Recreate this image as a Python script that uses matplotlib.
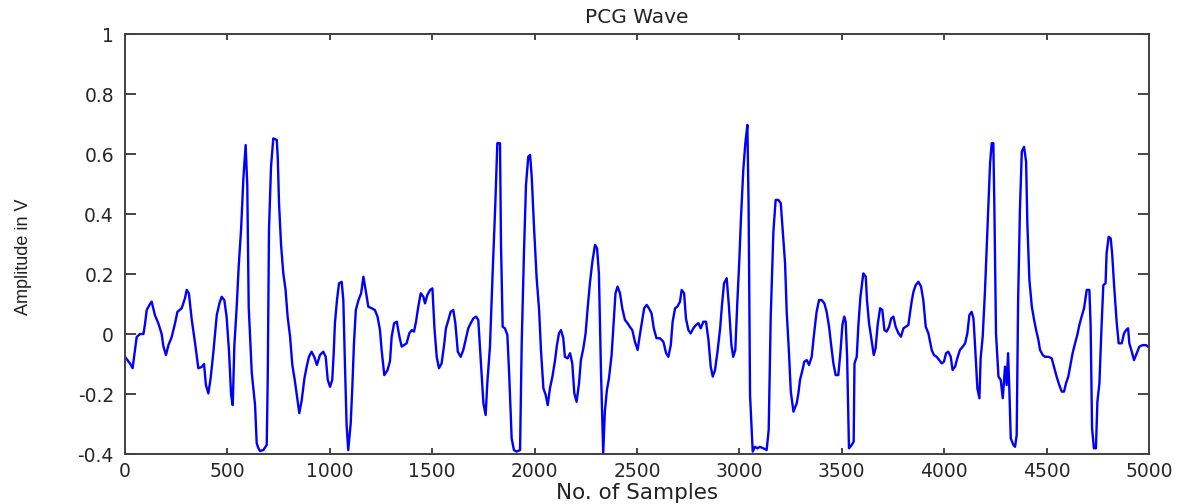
import matplotlib
matplotlib.use("Agg")
import matplotlib.pyplot as plt
from matplotlib import font_manager

samples = [0, 24, 37, 49, 57, 73, 90, 98, 106, 122, 130, 146, 163, 179, 187, 200, 212, 228, 244, 256,
           277, 293, 301, 312, 326, 342, 358, 374, 386, 395, 407, 418, 431, 448, 461, 472, 485, 496, 508, 518,
           526, 534, 545, 555, 567, 578, 589, 597, 604, 619, 635, 643,
           651, 659, 675, 692, 697, 703, 713, 724, 741, 746, 752, 762, 773, 784, 794, 806, 817, 830, 842, 851,
           863, 876, 887, 898, 911, 924, 937, 952, 968, 980, 990, 1001, 1012, 1019, 1025, 1035, 1045, 1058,
           1066, 1074, 1082, 1090, 1102, 1110, 1118, 1127, 1140, 1153, 1164, 1175, 1188, 1204, 1220, 1233,
           1245, 1253, 1266, 1282,
           1294, 1302, 1314, 1327, 1340, 1351, 1362, 1375, 1388, 1400, 1411, 1421, 1432, 1444, 1457, 1465,
           1476, 1490, 1501, 1511, 1522, 1533, 1546, 1558, 1567, 1579, 1590, 1603, 1613, 1625, 1639, 1652,
           1665, 1676, 1688, 1701, 1714, 1725, 1737, 1750, 1761, 1769, 1782, 1795, 1808, 1818, 1831, 1836,
           1844, 1855, 1867, 1876, 1888, 1899, 1912, 1929, 1937, 1948, 1958, 1969,
           1978, 1986, 1997, 2010, 2022, 2031, 2043, 2054, 2064, 2075, 2087, 2100, 2109, 2119, 2129, 2140,
           2148, 2161, 2173, 2184, 2194, 2205, 2217, 2226, 2238, 2249, 2259, 2270, 2282, 2295, 2305, 2314,
           2324, 2335, 2343, 2353, 2363, 2376, 2386, 2395, 2405, 2417, 2428, 2441, 2454, 2465, 2477, 2490,
           2503, 2514, 2526, 2535, 2547, 2558, 2571, 2582, 2595,
           2612, 2629, 2642, 2653, 2665, 2674, 2686, 2697, 2710, 2718, 2730, 2739, 2751, 2762, 2775, 2788,
           2800, 2811, 2824, 2837, 2849, 2860, 2870, 2881, 2893, 2906, 2915, 2925, 2938, 2949, 2961, 2970,
           2980, 2990, 2999, 3008, 3019, 3029, 3039, 3045, 3052, 3065, 3076, 3088, 3100, 3117, 3133, 3143,
           3153, 3166, 3177, 3190, 3202, 3211, 3223, 3231, 3241, 3251, 3264,
           3280, 3288, 3296, 3308, 3317, 3329, 3340, 3353, 3364, 3377, 3389, 3402, 3415, 3426, 3438, 3447,
           3459, 3470, 3483, 3493, 3503, 3512, 3519, 3526, 3535, 3548, 3558, 3562, 3573, 3581, 3591, 3605,
           3617, 3623, 3633, 3643, 3656, 3665, 3675, 3687, 3698, 3708, 3719, 3731, 3741, 3752, 3763, 3777,
           3789, 3801, 3812, 3825, 3833, 3841, 3850, 3861, 3874, 3887, 3898, 3910, 3923,
           3939, 3950, 3963, 3976, 3988, 3999, 4009, 4020, 4032, 4041, 4053, 4064, 4077, 4091, 4102, 4113,
           4123, 4134, 4143, 4151, 4162, 4172, 4178, 4188, 4199, 4211, 4224, 4232, 4240, 4245, 4253, 4265,
           4276, 4286, 4297, 4305, 4312, 4318, 4325, 4338, 4346, 4354, 4361, 4370, 4379, 4390, 4400, 4406,
           4416, 4428, 4439, 4449, 4460, 4468, 4481, 4492, 4509,
           4525, 4536, 4549, 4562, 4574, 4585, 4595, 4606, 4618, 4627, 4639, 4650, 4660, 4671, 4683, 4696,
           4709, 4715, 4722, 4731, 4741, 4748, 4758, 4767, 4777, 4788, 4793, 4803, 4813, 4820, 4829, 4842,
           4852, 4867, 4878, 4888, 4898, 4904, 4916, 4927, 4940, 4953, 4969, 4985, 4995]

amplitude = [-0.076, -0.098, -0.114, -0.05, -0.01, 0.0, 0.0, 0.035, 0.08, 0.10, 0.108, 0.063, 0.035, 0.0,
             -0.04, -0.07, -0.037, -0.01, 0.035, 0.074, 0.086, 0.12, 0.147, 0.135, 0.047, -0.03, -0.114,
             -0.11, -0.10, -0.17, -0.198, -0.148, -0.064, 0.063, 0.102, 0.124, 0.113, 0.058, -0.059, -0.203,
             -0.237, -0.037, 0.086, 0.224, 0.352, 0.519, 0.63, 0.497, 0.09, -0.13, -0.237, -0.364,
             -0.38, -0.39, -0.387, -0.37, -0.142, 0.347, 0.558, 0.652, 0.647, 0.586, 0.436, 0.297, 0.202,
             0.147, 0.058, -0.009, -0.103, -0.159, -0.22, -0.264, -0.22, -0.148, -0.109, -0.076, -0.059,
             -0.076, -0.103, -0.07, -0.059, -0.076, -0.153, -0.176, -0.153, -0.064, 0.036, 0.113, 0.169,
             0.174, 0.113, -0.103, -0.303, -0.387, -0.298, -0.176, -0.031, 0.08, 0.113, 0.136, 0.191, 0.147,
             0.091, 0.086, 0.08, 0.058, 0.013, -0.053, -0.137, -0.12,
             -0.09, -0.009, 0.036, 0.041, -0.009, -0.042, -0.037, -0.031, 0.002, 0.013, 0.008, 0.041, 0.091,
             0.136, 0.124, 0.102, 0.13, 0.147, 0.152, 0.019, -0.076, -0.114, -0.098, -0.037, 0.019, 0.047,
             0.074, 0.08, 0.036, -0.059, -0.076, -0.053, -0.014, 0.019, 0.036, 0.052, 0.058, 0.047, -0.087,
             -0.231, -0.27, -0.164, -0.042, 0.202, 0.43, 0.636, 0.636, 0.297, 0.024, 0.019, -0.003, -0.137,
             -0.348, -0.387, -0.392, -0.387, -0.031, 0.269, 0.497, 0.591,
             0.597, 0.524, 0.358, 0.186, 0.08, -0.053, -0.181, -0.203, -0.237, -0.181, -0.142, -0.087,
             -0.037, 0.002, 0.013, -0.014, -0.076, -0.081, -0.064, -0.098, -0.198, -0.226, -0.164, -0.087,
             -0.048, 0.002, 0.086, 0.169, 0.241, 0.297, 0.286, 0.202, -0.12, -0.398, -0.259, -0.187, -0.148,
             -0.07, 0.041, 0.136, 0.158, 0.136, 0.086, 0.047, 0.036, 0.024, 0.013, -0.026, -0.053, -0.003,
             0.047, 0.086, 0.097, 0.086, 0.069, 0.019, -0.014,
             -0.014, -0.026, -0.064, -0.076, -0.037, 0.041, 0.086, 0.091, 0.108, 0.147, 0.136, 0.052, 0.013,
             0.002, 0.019, 0.03, 0.036, 0.019, 0.041, 0.041, -0.02, -0.109, -0.142, -0.12, -0.059, 0.019,
             0.097, 0.169, 0.186, 0.091, -0.037, -0.076, -0.053, 0.108, 0.236, 0.391, 0.547, 0.636, 0.697,
             0.424, -0.203, -0.392, -0.376, -0.381, -0.376, -0.381, -0.387, -0.32, 0.058, 0.341, 0.447,
             0.447, 0.436, 0.352, 0.236, 0.074, -0.048, -0.192, -0.259,
             -0.231, -0.198, -0.153, -0.12, -0.092, -0.087, -0.103, -0.076, -0.003, 0.074, 0.113, 0.113,
             0.102, 0.074, 0.024, -0.031, -0.098, -0.137, -0.137, -0.064, 0.03, 0.058, 0.041, -0.076, -0.381,
             -0.37, -0.359, -0.098, -0.076, 0.03, 0.124, 0.202, 0.191, 0.113, 0.036, -0.009, -0.07, -0.048,
             0.03, 0.086, 0.08, 0.013, 0.008, 0.024, 0.052, 0.058, 0.024, 0.002, -0.009, 0.019, 0.024, 0.03,
             0.069, 0.108, 0.141, 0.163, 0.174, 0.158, 0.113, 0.024, 0.002,
             -0.053, -0.07, -0.076, -0.087, -0.098, -0.092, -0.064, -0.059, -0.076, -0.12, -0.109, -0.081,
             -0.053, -0.042, -0.031, 0.002, 0.063, 0.074, 0.052, -0.042, -0.181, -0.214, -0.081, -0.009,
             0.141, 0.347, 0.569, 0.636, 0.636, 0.424, 0.002, -0.142, -0.153, -0.214, -0.109, -0.17, -0.064,
             -0.181, -0.348, -0.37, -0.376, -0.337, 0.113, 0.419, 0.608, 0.624, 0.574, 0.369, 0.18, 0.091,
             0.047, 0.013, -0.02, -0.053, -0.07, -0.076, -0.076,
             -0.081, -0.109, -0.142, -0.17, -0.192, -0.192, -0.164, -0.142, -0.098, -0.064, -0.031, -0.003,
             0.03, 0.058, 0.086, 0.147, 0.147, 0.03, -0.314, -0.381, -0.381, -0.226, -0.164, 0.002, 0.163,
             0.169, 0.269, 0.324, 0.319, 0.269, 0.169, 0.041, -0.031, -0.031, 0.002, 0.013, 0.019, -0.031,
             -0.059, -0.087, -0.064, -0.042, -0.037, -0.037, -0.042]

x_ticks = [0, 500, 1000, 1500, 2000, 2500, 3000, 3500, 4000, 4500, 5000]
x_tick_labels = ["0", "500", "1000", "1500", "2000", "2500", "3000", "3500", "4000", "4500", "5000"]
y_ticks = [-0.4, -0.2, 0, 0.2, 0.4, 0.6, 0.8, 1.0]
y_tick_labels = ["-0.4", "-0.2", "0", "0.2", "0.4", "0.6", "0.8", "1"]

title_text = "PCG Wave"
x_label = "No. of Samples"
y_label = "Amplitude in V"

# condensed font for the y label if available
available = {f.name for f in font_manager.fontManager.ttflist}
if "Liberation Sans Narrow" in available:
    ylab_family, ylab_size = "Liberation Sans Narrow", 15.5
else:
    ylab_family, ylab_size = "Liberation Sans", 13

fig = plt.figure(figsize=(11.94, 5.04), dpi=100)
ax = fig.add_axes([0.1047, 0.0992, 0.8576, 0.8333])
ax.plot(samples, amplitude, color="#0000ff", linewidth=1.7)

ax.set_xlim(0, 5000)
ax.set_ylim(-0.4, 1.0)
ax.set_xticks(x_ticks)
ax.set_xticklabels(x_tick_labels)
ax.set_yticks(y_ticks)
ax.set_yticklabels(y_tick_labels)

tick_color = "#262626"
ax.tick_params(axis="x", direction="in", length=4.5, width=1.2, top=True, bottom=True,
               labelsize=13.5, pad=6, colors=tick_color)
ax.tick_params(axis="y", direction="in", length=8, width=1.2, left=True, right=True,
               labelsize=13.5, pad=8, colors=tick_color)
for lbl in ax.get_xticklabels() + ax.get_yticklabels():
    lbl.set_family("DejaVu Sans")

for sp in ax.spines.values():
    sp.set_color("#404040")
    sp.set_linewidth(1.4)

ax.set_title(title_text, fontsize=14.5, family="DejaVu Sans", pad=8, color="#222222")
ax.set_xlabel(x_label, fontsize=15.5, family="DejaVu Sans", labelpad=1, color="#222222")
ax.set_ylabel(y_label, fontsize=ylab_size, family=ylab_family, color="#222222")
ax.yaxis.set_label_coords(-0.091, 0.47)

fig.savefig("out.png", dpi=100)
